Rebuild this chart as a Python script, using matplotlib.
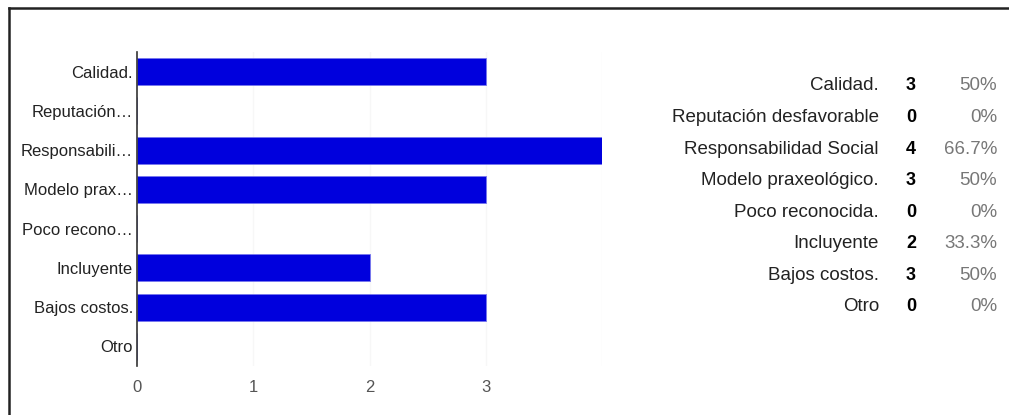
import matplotlib.pyplot as plt
from matplotlib.lines import Line2D

plt.rcParams['font.family'] = ['Liberation Sans', 'DejaVu Sans']

categories = ['Calidad.', 'Reputación desfavorable', 'Responsabilidad Social',
              'Modelo praxeológico.', 'Poco reconocida.', 'Incluyente',
              'Bajos costos.', 'Otro']
short_labels = ['Calidad.', 'Reputación…', 'Responsabili…', 'Modelo prax…',
                'Poco recono…', 'Incluyente', 'Bajos costos.', 'Otro']
counts = [3, 0, 4, 3, 0, 2, 3, 0]
respondents = 6
x_ticks = [0, 1, 2, 3]

fig = plt.figure(figsize=(10.09, 4.15), dpi=100)
ax = fig.add_axes([137 / 1009, 49 / 415, 465 / 1009, 314 / 415])

pos = range(len(categories))
ax.barh(pos, counts, height=0.69, color='#0000dd', edgecolor='#7777ee',
        linewidth=0.6, zorder=3)
ax.set_ylim(len(categories) - 0.5, -0.5)
ax.set_xlim(0, 4)

ax.set_yticks(list(pos))
ax.set_yticklabels(short_labels, fontsize=12, color='#222222')
ax.set_xticks(x_ticks)
ax.set_xticklabels([str(t) for t in x_ticks], fontsize=12, color='#555555')
ax.tick_params(axis='y', length=0, pad=3)
ax.tick_params(axis='x', length=0, pad=10)

# faint vertical gridlines, including the unlabeled one at 4
for v in [1, 2, 3, 4]:
    ax.axvline(v, color='#f7f7f7', linewidth=1, zorder=1)

for side in ['top', 'right', 'bottom']:
    ax.spines[side].set_visible(False)
ax.spines['left'].set_color('#333333')
ax.spines['left'].set_linewidth(1.2)
ax.spines['left'].set_zorder(4)

# summary table on the right
y_top, step = 1 - 86 / 415, 31.57 / 415
for i, (name, n) in enumerate(zip(categories, counts)):
    y = y_top - i * step
    pct = round(100 * n / respondents, 1)
    fig.text(879 / 1009, y, name, ha='right', va='center', fontsize=13.5,
             color='#222222')
    fig.text(911 / 1009, y, str(n), ha='center', va='center', fontsize=13,
             fontweight='bold', color='#000000')
    fig.text(997 / 1009, y, f'{pct:g}%', ha='right', va='center',
             fontsize=13.5, color='#777777')

# frame lines along the top and left
fig.add_artist(Line2D([9 / 1009, 1], [1 - 8 / 415, 1 - 8 / 415],
                      transform=fig.transFigure, color='#222222', linewidth=1.8))
fig.add_artist(Line2D([9 / 1009, 9 / 1009], [0, 1 - 8 / 415],
                      transform=fig.transFigure, color='#222222', linewidth=1.8))

fig.savefig('out.png', dpi=100)
